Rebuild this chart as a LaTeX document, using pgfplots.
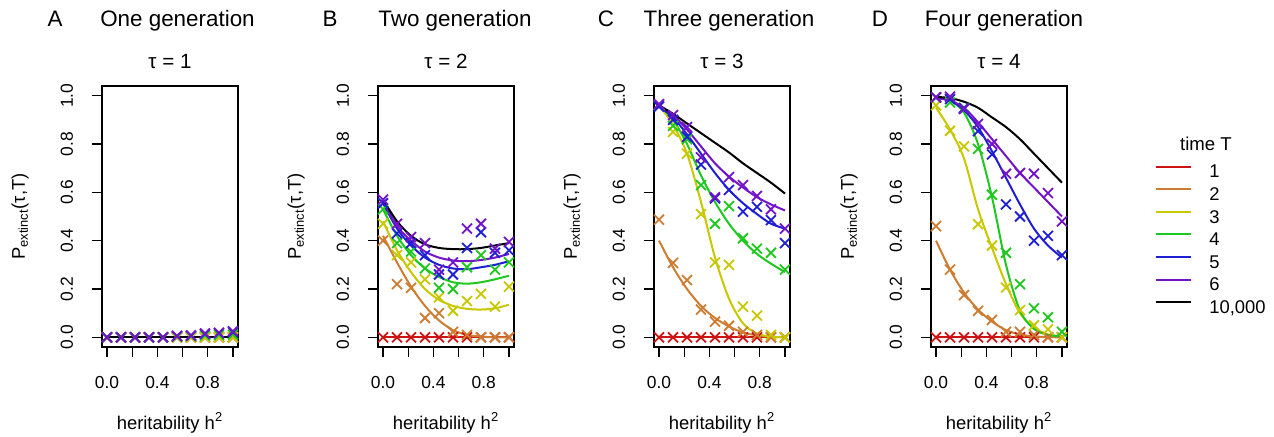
\documentclass[border=0pt]{standalone}
\usepackage{fontspec}
\setmainfont{Liberation Sans}
\usepackage{pgfplots}
\usepackage{pgfplotstable}
\pgfplotsset{compat=1.18}

\definecolor{cR}{RGB}{205,20,20}
\definecolor{cO}{RGB}{205,125,50}
\definecolor{cY}{RGB}{200,200,0}
\definecolor{cG}{RGB}{30,200,30}
\definecolor{cB}{RGB}{30,30,210}
\definecolor{cP}{RGB}{115,20,200}
\definecolor{cK}{RGB}{0,0,0}

\pgfplotstableread{
x p1 p2 p3 p4 p5 p6 c1 c2 c3 c4 c5 c6 c7
0      0 0 0 0     0     0     0 0 0 0 0 0 0
0.1111 0 0 0 0     0     0     0 0 0 0 0 0 0
0.2222 0 0 0 0     0     0     0 0 0 0 0 0 0
0.3333 0 0 0 0     0     0     0 0 0 0 0 0 0
0.4444 0 0 0 0     0     0     0 0 0 0 0 0 0
0.5556 0 0 0 0.003 0.005 0.006 0 0 0 0 0 0 0
0.6667 0 0 0 0.005 0.007 0.008 0 0 0 0 0 0 0
0.7778 0 0 0 0.008 0.014 0.016 0 0 0 0 0 0 0
0.8889 0 0 0 0.010 0.017 0.019 0 0 0 0 0 0 0
1.0    0 0 0 0.012 0.022 0.025 0 0 0 0 0 0 0
}\tA

\pgfplotstableread{
x p1 p2 p3 p4 p5 p6 c1 c2 c3 c4 c5 c6 c7
0      0 0.40  0.47  0.53  0.555 0.57  0 0.42  0.48  0.53  0.555 0.565 0.57
0.1111 0 0.22  0.34  0.39  0.43  0.47  0 0.31  0.36  0.42  0.45  0.46  0.48
0.2222 0 0.205 0.31  0.355 0.39  0.415 0 0.21  0.27  0.34  0.38  0.40  0.42
0.3333 0 0.08  0.24  0.285 0.34  0.39  0 0.13  0.20  0.285 0.33  0.355 0.385
0.4444 0 0.10  0.165 0.205 0.26  0.28  0 0.07  0.155 0.25  0.30  0.33  0.37
0.5556 0 0.023 0.11  0.20  0.26  0.31  0 0.03  0.13  0.228 0.285 0.318 0.365
0.6667 0 0.01  0.15  0.29  0.37  0.45  0 0.01  0.118 0.222 0.282 0.315 0.365
0.7778 0 0     0.18  0.34  0.435 0.47  0 0.003 0.115 0.228 0.29  0.32  0.37
0.8889 0 0     0.127 0.28  0.35  0.367 0 0     0.12  0.24  0.30  0.33  0.38
1.0    0 0     0.21  0.31  0.36  0.395 0 0     0.135 0.255 0.315 0.345 0.39
}\tB

\pgfplotstableread{
x p1 p2 p3 p4 p5 p6 c1 c2 c3 c4 c5 c6 c7
0      0 0.487 0.96  0.96  0.955 0.965 0 0.40  0.96  0.96  0.955 0.96  0.96
0.1111 0 0.308 0.85  0.875 0.90  0.92  0 0.29  0.88  0.90  0.91  0.92  0.925
0.2222 0 0.237 0.76  0.82  0.83  0.87  0 0.20  0.76  0.80  0.84  0.86  0.885
0.3333 0 0.115 0.51  0.63  0.715 0.745 0 0.13  0.56  0.67  0.76  0.79  0.845
0.4444 0 0.065 0.31  0.47  0.575 0.58  0 0.08  0.33  0.56  0.68  0.72  0.805
0.5556 0 0.048 0.30  0.543 0.61  0.663 0 0.045 0.16  0.47  0.61  0.665 0.765
0.6667 0 0.023 0.127 0.41  0.52  0.63  0 0.02  0.058 0.40  0.555 0.62  0.72
0.7778 0 0.01  0.09  0.367 0.54  0.585 0 0.008 0.016 0.345 0.51  0.58  0.68
0.8889 0 0     0.01  0.35  0.485 0.53  0 0.002 0.003 0.305 0.47  0.55  0.64
1.0    0 0     0     0.28  0.39  0.45  0 0     0     0.27  0.45  0.525 0.595
}\tC

\pgfplotstableread{
x p1 p2 p3 p4 p5 p6 c1 c2 c3 c4 c5 c6 c7
0      0 0.46  0.96  0.993 0.993 0.993 0 0.40  0.95  0.99  0.99  0.99  0.995
0.1111 0 0.28  0.855 0.972 0.986 0.996 0 0.28  0.86  0.98  0.98  0.98  0.99
0.2222 0 0.175 0.79  0.95  0.948 0.945 0 0.185 0.74  0.93  0.94  0.95  0.975
0.3333 0 0.11  0.468 0.78  0.853 0.883 0 0.115 0.53  0.80  0.87  0.89  0.95
0.4444 0 0.072 0.38  0.59  0.757 0.80  0 0.065 0.37  0.58  0.77  0.82  0.91
0.5556 0 0.023 0.206 0.35  0.55  0.677 0 0.03  0.22  0.30  0.66  0.75  0.87
0.6667 0 0.023 0.113 0.22  0.50  0.68  0 0.012 0.10  0.11  0.55  0.68  0.82
0.7778 0 0.01  0.05  0.12  0.40  0.677 0 0.004 0.04  0.035 0.45  0.62  0.76
0.8889 0 0     0.033 0.083 0.42  0.597 0 0.001 0.012 0.01  0.38  0.56  0.70
1.0    0 0     0     0.023 0.34  0.48  0 0     0.004 0.005 0.33  0.50  0.64
}\tD

\pgfplotsset{
  panel/.style={
    scale only axis, width=68pt, height=130.5pt, anchor=south west,
    xmin=-0.04, xmax=1.04, ymin=-0.04, ymax=1.04,
    axis line style={line width=0.75pt},
    tick style={line width=0.65pt, black},
    tick align=outside, major tick length=5pt,
    xtick pos=left, ytick pos=left,
    xtick={0,0.2,0.4,0.6,0.8,1}, xticklabels={0.0,,0.4,,0.8,},
    ytick={0,0.2,0.4,0.6,0.8,1}, yticklabels={0.0,0.2,0.4,0.6,0.8,1.0},
    ticklabel style={font=\fontsize{8.7}{10}\selectfont},
    xticklabel style={yshift=-6pt},
    yticklabel style={xshift=-6pt, rotate=90, anchor=south},
    xlabel={heritability h\textsuperscript{2}},
    ylabel={P\textsubscript{extinct}(τ,T)},
    label style={font=\fontsize{9.2}{11}\selectfont},
    xlabel style={at={(axis description cs:0.5,-0.291)}, anchor=center},
    ylabel style={at={(axis description cs:-0.603,0.5)}, anchor=center},
  },
  pts/.style={only marks, mark=x, mark size=3.5pt, line width=0.9pt, forget plot},
  crv/.style={no markers, smooth, line width=1pt},
}

\newcommand{\panelplots}[1]{%
  \addplot[pts, cR] table[x=x,y=p1]{#1};
  \addplot[crv, cR] table[x=x,y=c1]{#1};
  \addplot[pts, cO] table[x=x,y=p2]{#1};
  \addplot[crv, cO] table[x=x,y=c2]{#1};
  \addplot[pts, cY] table[x=x,y=p3]{#1};
  \addplot[crv, cY] table[x=x,y=c3]{#1};
  \addplot[pts, cG] table[x=x,y=p4]{#1};
  \addplot[crv, cG] table[x=x,y=c4]{#1};
  \addplot[pts, cB] table[x=x,y=p5]{#1};
  \addplot[crv, cB] table[x=x,y=c5]{#1};
  \addplot[pts, cP] table[x=x,y=p6]{#1};
  \addplot[crv, cP] table[x=x,y=c6]{#1};
  \addplot[crv, cK] table[x=x,y=c7]{#1};
}

\begin{document}
\begin{tikzpicture}[x=0.5pt, y=0.5pt]
\path[use as bounding box] (0,0) rectangle (1274,436);

\begin{axis}[panel, at={(51pt,44.5pt)}]
\panelplots{\tA}
\end{axis}

\begin{axis}[panel, at={(189pt,44.5pt)}]
\panelplots{\tB}
\end{axis}

\begin{axis}[panel, at={(327pt,44.5pt)}]
\panelplots{\tC}
\end{axis}

\begin{axis}[panel, at={(465.5pt,44.5pt)},
  legend style={at={(axis description cs:1.647,0.703)}, anchor=north west,
    draw=none, fill=none, inner sep=0pt, row sep=2.3pt, column sep=8.5pt,
    font=\fontsize{9.2}{11}\selectfont,
    nodes={inner sep=0pt, text height=7pt, text depth=2pt}},
  legend cell align=left,
  legend image code/.code={\draw[#1, line width=1pt] (0pt,3.2pt) -- (17.5pt,3.2pt);}]
\panelplots{\tD}
\legend{1,2,3,4,5,6,{10,000}}
\end{axis}

\begin{scope}[font=\fontsize{11.2}{13}\selectfont]
\node[anchor=base] at (55,410) {A};
\node[anchor=base] at (177.5,410) {One generation};
\node[anchor=base] at (330,410) {B};
\node[anchor=base] at (455,410) {Two generation};
\node[anchor=base] at (606,410) {C};
\node[anchor=base] at (729,410) {Three generation};
\node[anchor=base] at (880,410) {D};
\node[anchor=base] at (1004,410) {Four generation};
\end{scope}
\begin{scope}[font=\fontsize{10.3}{12}\selectfont]
\node[anchor=base] at (170,368) {τ = 1};
\node[anchor=base] at (446,368) {τ = 2};
\node[anchor=base] at (722,368) {τ = 3};
\node[anchor=base] at (999,368) {τ = 4};
\end{scope}
\node[anchor=base, font=\fontsize{9.3}{11}\selectfont] at (1206,286) {time T};
\end{tikzpicture}
\end{document}
